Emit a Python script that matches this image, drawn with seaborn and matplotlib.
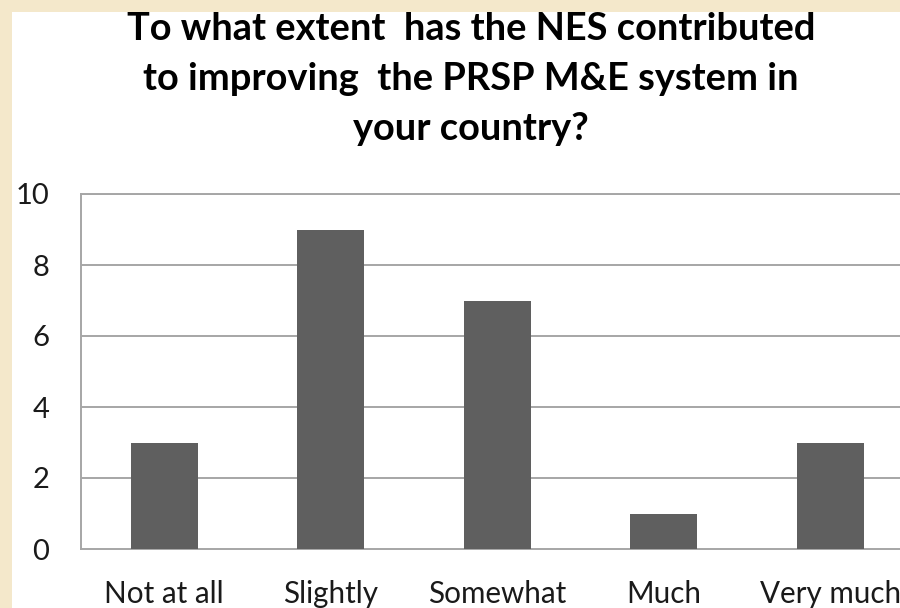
import matplotlib
matplotlib.use("Agg")
import matplotlib.pyplot as plt
import seaborn as sns
import pandas as pd
from matplotlib.patches import Rectangle

categories = ["Not at all", "Slightly", "Somewhat", "Much", "Very much"]
values = [3, 9, 7, 1, 3]
yticks = [0, 2, 4, 6, 8, 10]
title_lines = ["To what extent  has the NES contributed",
               "to improving  the PRSP M&E system in",
               "your country?"]

sns.set_theme(style="white")
plt.rcParams['font.family'] = ['Lato', 'DejaVu Sans']

W, H = 900, 608
fig = plt.figure(figsize=(9, 6.08), dpi=100)
fig.patch.set_facecolor("#F4E8CB")
fig.add_artist(Rectangle((12 / W, 0), 1, (H - 12) / H, transform=fig.transFigure,
                         facecolor="white", edgecolor="none", zorder=0))

ax = fig.add_axes([81 / W, 59 / H, 832.5 / W, 355 / H])
ax.set_facecolor("white")
df = pd.DataFrame({"cat": categories, "val": values})
sns.barplot(data=df, x="cat", y="val", color="#5F5F5F", width=0.4,
            saturation=1, ax=ax, zorder=3, edgecolor="none")
ax.set_xlim(-0.5, 4.5)
ax.set_ylim(0, 10)
ax.set_yticks(yticks)
ax.set_yticklabels([str(t) for t in yticks])
ax.set_xlabel("")
ax.set_ylabel("")
ax.grid(False)
for t in yticks[1:]:
    ax.axhline(t, color="#A6A6A6", lw=1.4, zorder=1)
for side in ["left", "bottom", "top"]:
    ax.spines[side].set_visible(True)
    ax.spines[side].set_color("#A6A6A6")
    ax.spines[side].set_linewidth(1.4)
ax.spines["right"].set_visible(False)
ax.tick_params(axis="y", length=0, pad=23, labelsize=21, labelcolor="#1a1a1a")
ax.tick_params(axis="x", length=0, pad=22, labelsize=21.3, labelcolor="#1a1a1a")

baselines = [40, 90, 140]
for line, b in zip(title_lines, baselines):
    fig.text(471 / W, 1 - b / H, line, ha="center", va="baseline",
             fontsize=27.4, fontweight="bold", color="black")

fig.savefig("out.png", dpi=100, facecolor=fig.get_facecolor())
